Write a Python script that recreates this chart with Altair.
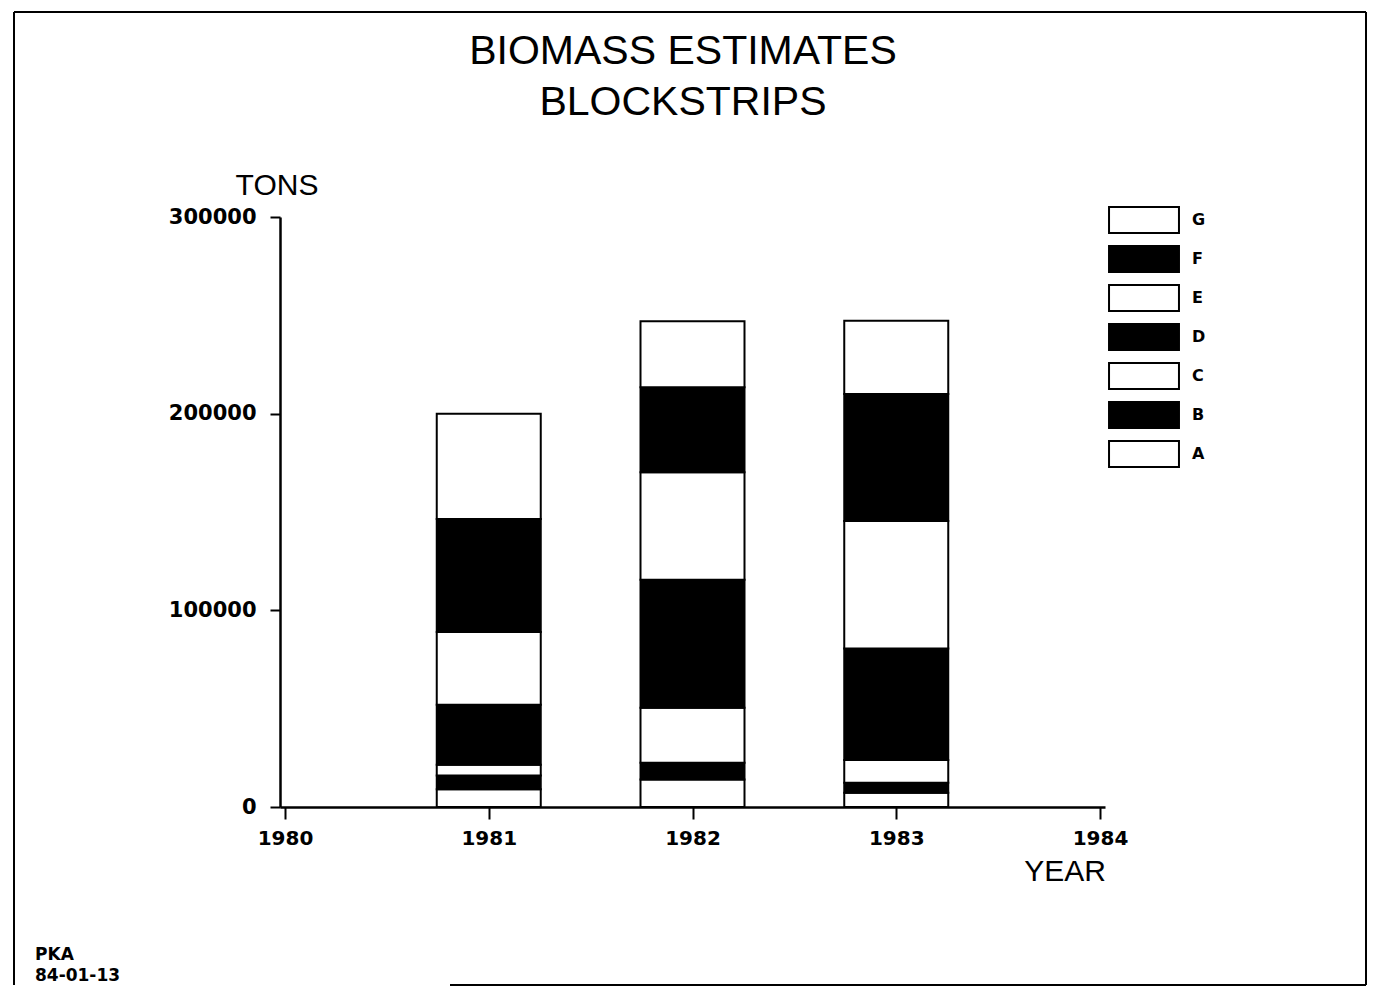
import altair as alt
import pandas as pd

# ---- data ----
years = [1981, 1982, 1983]
components = ["A", "B", "C", "D", "E", "F", "G"]
seg_A = [9000, 14000, 7300]
seg_B = [7000, 8500, 5000]
seg_C = [5500, 28000, 11600]
seg_D = [30500, 65000, 56700]
seg_E = [37000, 54700, 64800]
seg_F = [57500, 43200, 64600]
seg_G = [53500, 33600, 37200]
fills = ["white", "black", "white", "black", "white", "black", "white"]  # A..G

x_ticks = [1980, 1981, 1982, 1983, 1984]
y_ticks = [0, 100000, 200000, 300000]

title_lines = ["BIOMASS ESTIMATES", "BLOCKSTRIPS"]
y_title = "TONS"
x_title = "YEAR"
footer_lines = ["PKA", "84-01-13"]

series = {"A": seg_A, "B": seg_B, "C": seg_C, "D": seg_D,
          "E": seg_E, "F": seg_F, "G": seg_G}
rows = []
for ci, c in enumerate(components):
    for yi, yr in enumerate(years):
        rows.append({"year": yr, "component": c, "tons": series[c][yi], "ord": ci})
df = pd.DataFrame(rows)

legend_domain = components[::-1]
legend_range = fills[::-1]

bars = alt.Chart(df).mark_bar(size=104, stroke="black", strokeWidth=2).encode(
    x=alt.X("year:Q",
            scale=alt.Scale(domain=[1980, 1984], nice=False, zero=False),
            axis=alt.Axis(values=x_ticks, format="d", title=None, grid=False,
                          tickSize=12, tickWidth=2, domainWidth=2.5,
                          domainColor="black", tickColor="black",
                          labelFont="DejaVu Sans", labelFontWeight="bold",
                          labelFontSize=20, labelColor="black", labelPadding=9)),
    y=alt.Y("tons:Q", stack="zero",
            scale=alt.Scale(domain=[0, 300000], nice=False),
            axis=alt.Axis(values=y_ticks, format="d", title=None, grid=False,
                          tickSize=10, tickWidth=2, domainWidth=2.5,
                          domainColor="black", tickColor="black",
                          labelFont="DejaVu Sans", labelFontWeight="bold",
                          labelFontSize=21, labelColor="black", labelPadding=14)),
    color=alt.Color("component:N",
                    scale=alt.Scale(domain=legend_domain, range=legend_range),
                    legend=alt.Legend(title=None, orient="none",
                                      legendX=850, legendY=-11,
                                      symbolType="M-2.69,-1H2.69V1H-2.69Z",
                                      symbolSize=676, symbolStrokeColor="black",
                                      symbolStrokeWidth=2, symbolOpacity=1,
                                      labelFont="DejaVu Sans", labelFontWeight="bold",
                                      labelFontSize=16, labelColor="black",
                                      labelOffset=34, rowPadding=5)),
    order=alt.Order("ord:Q", sort="ascending"),
)


def label(text, x, y, size, weight="normal", font="Liberation Sans", align="center"):
    return alt.Chart(pd.DataFrame({"t": [text]})).mark_text(
        font=font, fontSize=size, fontWeight=weight, align=align,
        baseline="middle", color="black"
    ).encode(text="t:N", x=alt.value(x), y=alt.value(y))


def edge(x, x2, y, y2):
    return alt.Chart(pd.DataFrame({"f": [0]})).mark_rule(
        stroke="black", strokeWidth=2
    ).encode(x=alt.value(x), x2=alt.value(x2), y=alt.value(y), y2=alt.value(y2))


frame = [
    edge(-266, 1086, -205, -205),   # top
    edge(-266, -266, -205, 768),    # left
    edge(1086, 1086, -205, 768),    # right
    edge(170, 1086, 768, 768),      # bottom (only right part visible in the scan)
]

texts = [
    label(title_lines[0], 403, -165, 41),
    label(title_lines[1], 403, -114, 41),
    label(y_title, -3, -31, 30),
    label(x_title, 785, 655, 30),
    label(footer_lines[0], -245, 738, 17, "bold", "DejaVu Sans", "left"),
    label(footer_lines[1], -245, 759, 17, "bold", "DejaVu Sans", "left"),
]

chart = alt.layer(*frame, bars, *texts).properties(
    width=825, height=590,
    padding={"left": 272, "top": 209, "right": 264, "bottom": 181},
    autosize=alt.AutoSizeParams(type="none"),
    background="white",
).configure_view(stroke=None)

chart.save("out.html", embed_options={"renderer": "svg", "actions": False})
